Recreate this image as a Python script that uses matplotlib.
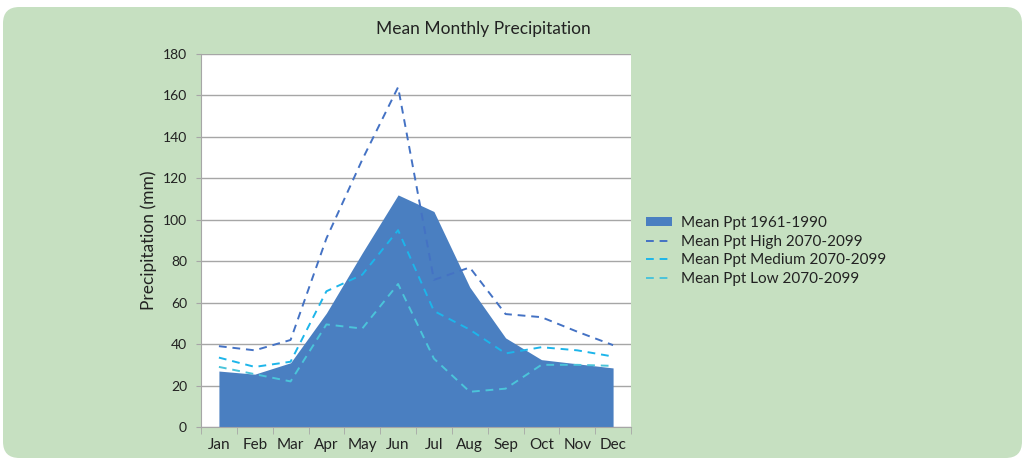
import matplotlib
matplotlib.use("Agg")
from matplotlib import pyplot as plt
from matplotlib.patches import FancyBboxPatch, Patch
from matplotlib.lines import Line2D
import numpy as np

# data
months = ['Jan', 'Feb', 'Mar', 'Apr', 'May', 'Jun', 'Jul', 'Aug', 'Sep', 'Oct', 'Nov', 'Dec']
ppt_1961_1990 = [27, 25.5, 31, 55, 84, 112, 104, 67.5, 43, 32.5, 30.5, 28.5]
ppt_high = [39, 37, 42, 91, 129, 164, 71, 77, 54.5, 53, 46, 39.5]
ppt_medium = [33.5, 29, 31.5, 65.5, 73.5, 95, 56, 47, 35.5, 38.5, 37, 34]
ppt_low = [29, 25.5, 22, 49.5, 47.5, 69, 33, 17, 18.5, 30, 30, 29.5]

green_bg = '#c6e0c1'

plt.rcParams['font.family'] = ['Lato', 'DejaVu Sans']

fig = plt.figure(figsize=(10.24, 4.62), dpi=100)
fig.patch.set_facecolor('white')

# rounded green panel (behind the axes)
panel = FancyBboxPatch((3 / 1024, 4 / 462), 1019 / 1024, 451 / 462,
                       boxstyle="round,pad=0,rounding_size=0.016",
                       transform=fig.transFigure, facecolor=green_bg,
                       edgecolor='none', mutation_aspect=1024 / 462, zorder=-10)
fig.patches.append(panel)

ax = fig.add_axes([201 / 1024, 35 / 462, 430 / 1024, 373 / 462])
ax.set_facecolor('white')

x = np.arange(len(months))
dash = (0, (4, 3))
ax.fill_between(x, 0, ppt_1961_1990, color='#4a7fc1', linewidth=0, zorder=2)
ax.plot(x, ppt_high, color='#4472c4', lw=1.4, ls=dash, zorder=3)
ax.plot(x, ppt_medium, color='#1db5ea', lw=1.4, ls=dash, zorder=3)
ax.plot(x, ppt_low, color='#4bc4da', lw=1.4, ls=dash, zorder=3)

ax.set_xlim(-0.5, 11.5)
ax.set_ylim(0, 180)
ax.set_yticks(range(0, 181, 20))
ax.yaxis.grid(True, color='#a6a6a6', lw=1)
ax.set_axisbelow(True)

ax.set_xticks(x)
ax.set_xticklabels(months)
ax.set_xticks(np.arange(-0.5, 12, 1), minor=True)
ax.tick_params(axis='x', which='major', length=0, pad=8, labelsize=11, colors='#222222')
ax.tick_params(axis='x', which='minor', length=5, color='#a6a6a6', direction='out')
ax.tick_params(axis='y', length=3.6, pad=6.5, labelsize=10, colors='#222222')
ax.tick_params(axis='y', color='#a6a6a6')

for s in ['top', 'right']:
    ax.spines[s].set_visible(False)
ax.spines['left'].set_color('#a6a6a6')
ax.spines['bottom'].set_color('#a6a6a6')

ax.set_ylabel('Precipitation (mm)', fontsize=12.5, color='#222222', labelpad=4)
fig.text(483 / 1024, 1 - 29 / 462, 'Mean Monthly Precipitation', ha='center', va='center',
         fontsize=12.5, color='#222222')

handles = [Patch(facecolor='#4a7fc1', edgecolor='none'),
           Line2D([], [], color='#4472c4', lw=1.4, ls=dash),
           Line2D([], [], color='#1db5ea', lw=1.4, ls=dash),
           Line2D([], [], color='#4bc4da', lw=1.4, ls=dash)]
labels = ['Mean Ppt 1961-1990', 'Mean Ppt High 2070-2099',
          'Mean Ppt Medium 2070-2099', 'Mean Ppt Low 2070-2099']
leg = fig.legend(handles, labels, loc='center left', bbox_to_anchor=(632 / 1024, 1 - 251 / 462),
                 frameon=False, fontsize=11, handlelength=1.7, handleheight=0.5,
                 labelspacing=0.3, handletextpad=0.6)
for t in leg.get_texts():
    t.set_color('#222222')

fig.savefig('out.png', dpi=100)
